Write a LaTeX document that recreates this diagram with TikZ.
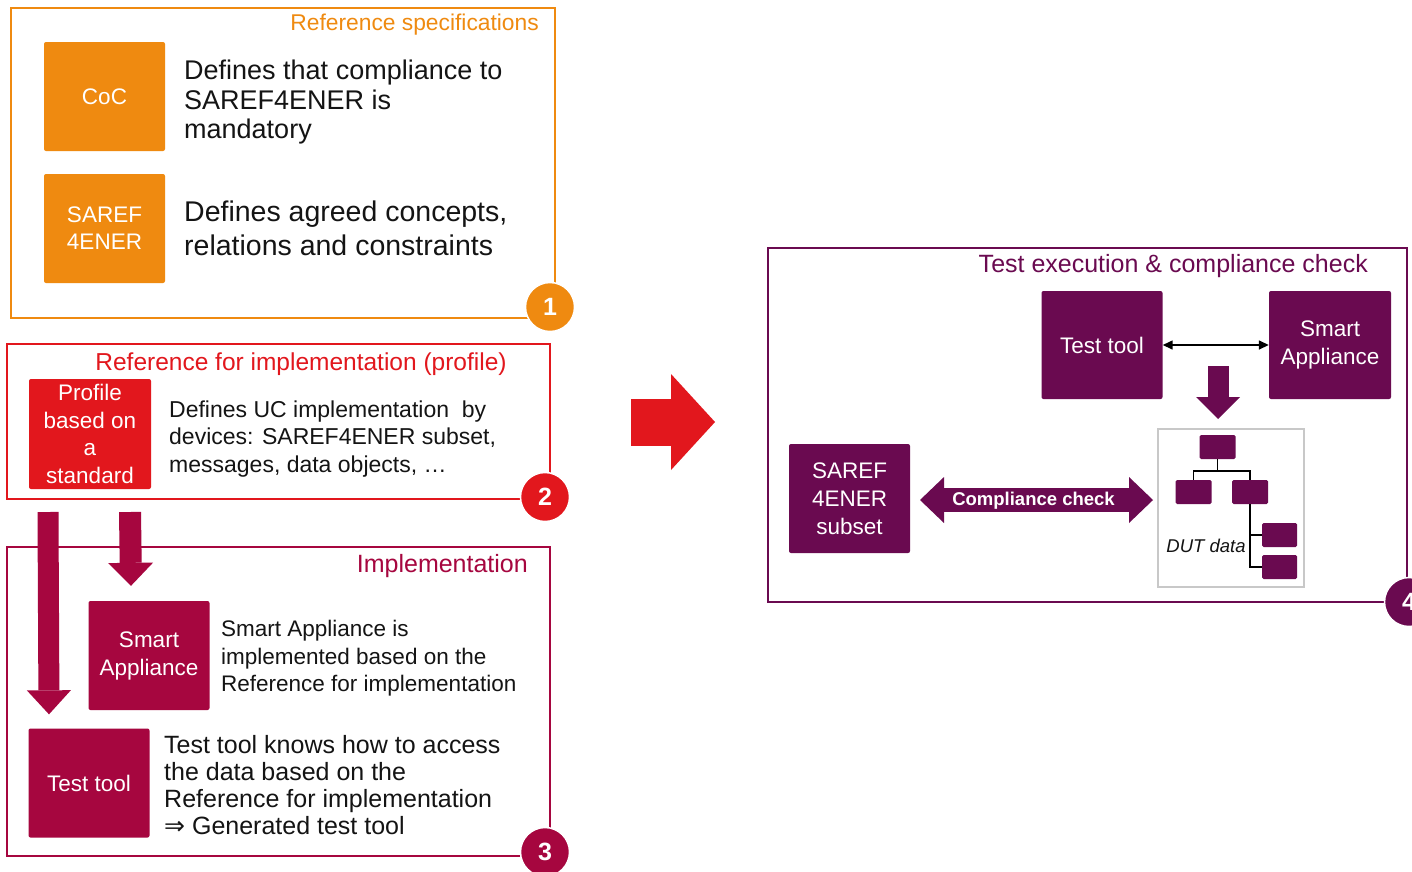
\documentclass[tikz,border=0pt]{standalone}
\usepackage{fontspec}
\setmainfont{Liberation Sans}
\newfontfamily\djv{DejaVu Sans}
\usetikzlibrary{arrows.meta}
\definecolor{cOr}{HTML}{EF8A10}
\definecolor{cRed}{HTML}{E2171D}
\definecolor{cCr}{HTML}{A6063F}
\definecolor{cPu}{HTML}{6A0A50}
\definecolor{cTx}{HTML}{141414}
\definecolor{cGr}{HTML}{C8C8C8}
\begin{document}
\begin{tikzpicture}[x=1pt,y=-1pt,
  panel/.style={draw=#1, line width=2pt, inner sep=0pt},
  blk/.style={fill=#1, text=white, rounded corners=2pt, minimum width=121pt, minimum height=109pt, inner sep=0pt, align=center, font=\fontsize{22.5}{28}\selectfont},
  desc/.style={anchor=west, inner sep=0pt, align=left, text=cTx},
  ttl/.style={inner sep=0pt, text=#1, font=\fontsize{24.5}{28}\selectfont},
  badge/.style={circle, fill=#1, draw=white, line width=1.5pt, minimum size=49pt, inner sep=0pt, text=white, font=\fontsize{25}{25}\selectfont\bfseries},
  fatarrow/.style={draw=#1, line width=21pt, -{Triangle[length=24pt,width=44pt,line width=0pt]}},
  leaf/.style={fill=cPu, rounded corners=1.5pt, minimum width=36pt, minimum height=24pt, inner sep=0pt},
  treeline/.style={draw=black, line width=1.5pt},
]
\clip (0,0) rectangle (1412,871);
\fill[white] (0,0) rectangle (1412,871);

% ---------- panel 1 ----------
\node[panel=cOr, minimum width=544pt, minimum height=310pt] (p1) at (283,163) {};
\node[ttl=cOr, anchor=east, font=\fontsize{22.8}{26}\selectfont] (t1) at (539,25) {Reference specifications};
\node[blk=cOr] (coc) at (104.5,96.5) {CoC};
\node[blk=cOr, font=\fontsize{22.5}{27}\selectfont] (saref) at (104.5,228.5) {SAREF\\4ENER};
\node[desc, font=\fontsize{27}{29.5}\selectfont] (d1) at (184,102.5) {Defines that compliance to\\SAREF4ENER is\\mandatory};
\node[desc, font=\fontsize{28.5}{34}\selectfont] (d2) at (184,228) {Defines agreed concepts,\\relations and constraints};

% ---------- panel 2 ----------
\node[panel=cRed, minimum width=543pt, minimum height=155pt] (p2) at (278.5,421.5) {};
\node[ttl=cRed] (t2) at (301,364) {Reference for implementation (profile)};
\node[blk=cRed, minimum width=122pt, minimum height=110pt, font=\fontsize{22.5}{27.7}\selectfont] (prof) at (90,434) {Profile\\based on\\a\\standard};
\node[desc, font=\fontsize{23}{27.5}\selectfont] (d3) at (169,439) {Defines UC implementation\ \ by\\devices: SAREF4ENER subset,\\messages, data objects, \ldots};

% ---------- panel 3 ----------
\node[panel=cCr, minimum width=543pt, minimum height=309pt] (p3) at (278.5,701.5) {};
\node[ttl=cCr, anchor=east, font=\fontsize{25}{28}\selectfont] (t3) at (528,566) {Implementation};
\node[blk=cCr] (sa) at (149,655.5) {Smart\\Appliance};
\node[blk=cCr] (tt) at (89,783) {Test tool};
\node[desc, font=\fontsize{22.5}{27.5}\selectfont] (d4) at (221,658.5) {Smart Appliance is\\implemented based on the\\Reference for implementation};
\node[desc, font=\fontsize{25}{27}\selectfont] (d5) at (164,785.5) {Test tool knows how to access\\the data based on the\\Reference for implementation\\{\djv ⇒} Generated test tool};

\draw[fatarrow=cCr] ([shift={(42,12)}]p2.south west) -- ([shift={(-40,-14)}]tt.north);
\draw[fatarrow=cCr, line width=22pt, -{Triangle[length=23pt,width=45pt,line width=0pt]}] ([shift={(124,12)}]p2.south west) -- ([shift={(-18,-15)}]sa.north);

% ---------- big arrow ----------
\coordinate (bigS) at (631,422);
\coordinate (bigE) at (715,422);
\draw[draw=cRed, line width=47pt, -{Triangle[length=44pt,width=96pt,line width=0pt]}] (bigS) -- (bigE);

% ---------- panel 4 ----------
\node[panel=cPu, minimum width=639pt, minimum height=354pt] (p4) at (1087.5,425) {};
\node[ttl=cPu, anchor=east, font=\fontsize{25}{28}\selectfont] (t4) at (1368,266) {Test execution \& compliance check};
\node[blk=cPu, minimum width=121pt, minimum height=108pt] (ttR) at (1102,345) {Test tool};
\node[blk=cPu, minimum width=122pt, minimum height=108pt] (saR) at (1330,345) {Smart\\Appliance};
\node[blk=cPu, minimum width=121pt, minimum height=109pt] (sub) at (849.5,498.5) {SAREF\\4ENER\\subset};
\draw[line width=1.5pt, {Triangle[length=10pt,width=9pt]}-{Triangle[length=10pt,width=9pt]}] (ttR.east) -- (saR.west);

\node[draw=cGr, line width=1.5pt, fill=white, minimum width=146pt, minimum height=158pt, inner sep=0pt] (dut) at (1231,508) {};
\coordinate (dnS) at (1218,366);
\coordinate (dnE) at (1218,419);
\draw[fatarrow=cPu, -{Triangle[length=22pt,width=44pt,line width=0pt]}] (dnS) -- (dnE);

\coordinate (ccL) at (920,500);
\coordinate (ccR) at (1153,500);
\draw[draw=cPu, line width=24pt, {Triangle[length=24pt,width=46pt,line width=0pt]}-{Triangle[length=24pt,width=46pt,line width=0pt]}] (ccL) -- (ccR)
  node[midway, xshift=-3pt, yshift=-1pt, text=white, font=\fontsize{18.5}{20}\selectfont\bfseries, inner sep=0pt] (cclab) {Compliance check};

% tree
\node[leaf] (r0) at (1217.5,447) {};
\node[leaf] (l1) at (1193.5,492) {};
\node[leaf] (l2) at (1250,492) {};
\node[leaf, minimum width=35pt] (g1) at (1279.5,535) {};
\node[leaf, minimum width=35pt] (g2) at (1279.5,567) {};
\coordinate (hub) at (1217.5,471);
\draw[treeline] (r0.south) -- (hub);
\draw[treeline] (l1.north) |- (hub) -| (l2.north);
\draw[treeline] (l2.south) |- (g1.west);
\draw[treeline] (l2.south) |- (g2.west);
\node[inner sep=0pt, font=\fontsize{18.5}{20}\selectfont\itshape, text=cTx] (dutlab) at (1206,546) {DUT data};

% ---------- badges ----------
\node[badge=cOr] (c1) at (550,307) {1};
\node[badge=cRed] (c2) at (545,497) {2};
\node[badge=cCr] (c3) at (545,852) {3};
\node[badge=cPu] (c4) at (1409,602) {4};
\end{tikzpicture}
\end{document}
